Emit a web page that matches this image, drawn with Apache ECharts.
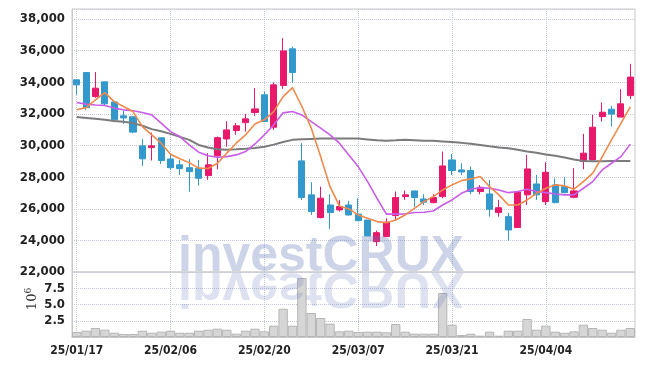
<!DOCTYPE html>
<html><head><meta charset="utf-8">
<script src="https://cdn.jsdelivr.net/npm/echarts@6/dist/echarts.min.js"></script>
<style>html,body{margin:0;padding:0;background:#fff}#c{width:645px;height:366px}</style>
</head><body><div id="c"></div>
<script>
const dates = ['25/01/17','25/01/20','25/01/21','25/01/22','25/01/23','25/01/24','25/01/31','25/02/03','25/02/04','25/02/05',
'25/02/06','25/02/07','25/02/10','25/02/11','25/02/12','25/02/13','25/02/14','25/02/17','25/02/18','25/02/19',
'25/02/20','25/02/21','25/02/24','25/02/25','25/02/26','25/02/27','25/02/28','25/03/04','25/03/05','25/03/06',
'25/03/07','25/03/10','25/03/11','25/03/12','25/03/13','25/03/14','25/03/17','25/03/18','25/03/19','25/03/20',
'25/03/21','25/03/24','25/03/25','25/03/26','25/03/27','25/03/28','25/03/31','25/04/01','25/04/02','25/04/03',
'25/04/04','25/04/07','25/04/08','25/04/09','25/04/10','25/04/11','25/04/14','25/04/15','25/04/16','25/04/17'];
// [open, close, low, high]
const ohlc = [
[34160,33840,33210,34160],[34620,32400,32260,34620],[33100,33630,33020,34650],[34030,32640,32510,34030],[32760,31630,31480,32760],
[31880,31750,31370,32210],[31820,30850,30780,31820],[29980,29160,28710,30400],[29870,29980,29050,30820],[30490,29050,28840,30490],
[29150,28600,28460,29400],[28780,28540,28140,29090],[28600,28350,27080,29140],[28570,27930,27470,29090],[28100,28780,27830,29520],
[29360,30500,28500,30570],[30420,30990,29930,31540],[30950,31250,30680,31420],[31450,31690,30880,32000],[32090,32320,31880,33630],
[33210,31520,31520,33420],[31160,33840,30990,33990],[33800,35990,33590,36800],[36120,34620,33990,36270],[29030,26710,26560,30150],
[26880,25820,25610,27680],[25440,26670,25400,27400],[26240,25760,24720,26920],[25930,26140,25820,26560],[26240,25610,25560,26500],
[25660,25250,25250,26670],[25290,24280,24280,25290],[23920,24490,23650,24620],[24240,25150,24240,25400],[25570,26710,25290,27090],
[26770,26880,26560,27150],[27130,26710,26120,27130],[26620,26420,26240,26920],[26390,26710,26350,26920],[26770,28710,26670,29620],
[29090,28420,28140,29470],[28460,28330,28140,28880],[28420,27090,26920,28670],[27090,27360,26920,27500],[26940,25970,25500,27830],
[25760,26070,25500,26560],[25500,24660,23980,25740],[24810,27050,24810,27050],[26880,28520,26240,29410],[27570,26880,26560,28140],
[26450,28310,26240,28950],[27510,26390,26350,27930],[27400,27020,26990,28000],[26730,27130,26670,28570],[28990,29520,28500,30740],
[29090,31160,29090,31940],[31830,32110,31520,32720],[32300,31990,31200,32510],[31800,32640,31800,33570],[33160,34330,32940,35170]];
const ma5 = [32260,32400,32890,33350,32780,32470,32150,31200,30680,30150,
29450,29160,28920,28570,28550,28880,29520,30150,30680,31370,
31630,32150,33100,33670,32470,31100,29300,27400,26180,25990,
25610,25400,25190,25120,25290,25610,26030,26450,26770,27190,
27510,27780,27890,28040,27400,26880,26240,26240,26560,26980,
27300,27510,27450,27240,27720,28250,29280,30360,31400,32450];
const ma10 = [32720,32620,32570,32530,32370,32260,32200,32090,31940,31420,
30880,30570,30040,29580,29350,29260,29300,29410,29620,30100,
30680,31310,32070,32150,31940,31520,31100,30680,30150,29410,
28670,27720,26670,25660,25660,25670,25760,25780,25860,26240,
26560,26980,27240,27340,27300,27190,27020,27090,27240,27090,
27020,26940,26880,26880,27300,27720,28460,28880,29300,30090];
const ma60 = [31800,31750,31690,31630,31560,31500,31420,31250,31040,30900,
30740,30550,30360,30040,29880,29770,29730,29760,29800,29850,
29920,30060,30230,30360,30400,30420,30440,30440,30440,30450,
30450,30390,30330,30310,30330,30360,30340,30310,30300,30260,
30220,30170,30110,30040,29950,29880,29830,29730,29630,29540,
29440,29350,29250,29120,29030,29000,29000,29020,29030,29030];
const volume = [770000,970000,1380000,1120000,660000,460000,460000,970000,660000,820000,
970000,660000,660000,970000,1120000,1280000,1120000,510000,970000,1280000,
870000,1740000,4350000,1740000,9070000,3690000,2920000,2050000,870000,970000,
770000,820000,820000,720000,2000000,820000,510000,510000,510000,6770000,
1890000,300000,510000,200000,820000,200000,970000,970000,2770000,1120000,
1740000,820000,660000,870000,1890000,1380000,1120000,660000,1120000,1380000];
const priceTicks = {min:22000, max:38640, interval:2000};
const volTicks = {min:0, max:10000000, interval:2500000};

const FONT = '"DejaVu Sans Condensed", Roboto, sans-serif';
const grid = '#c9c9c9';
const dotted = {type:'dotted', color:'#c3c8da', width:1};
const chart = echarts.init(document.getElementById('c'), null, {renderer:'canvas'});
chart.setOption({
  animation:false,
  grid:[
    {left:72, right:10, top:9, height:263, show:true, borderColor:grid, borderWidth:1},
    {left:72, right:10, top:272, height:65, show:true, borderColor:grid, borderWidth:1}
  ],
  xAxis:[
    {type:'category', gridIndex:0, data:dates, boundaryGap:true,
     axisLine:{show:false}, axisTick:{show:false}, axisLabel:{show:false},
     splitLine:{show:true, interval:9, alignWithLabel:true, lineStyle:dotted}},
    {type:'category', gridIndex:1, data:dates, boundaryGap:true,
     axisLine:{show:true, lineStyle:{color:grid}}, axisTick:{show:false},
     axisLabel:{interval:9, color:'#222', fontFamily:FONT, fontSize:12, fontWeight:'bold', margin:8},
     splitLine:{show:true, interval:9, alignWithLabel:true, lineStyle:dotted}}
  ],
  yAxis:[
    {type:'value', gridIndex:0, min:priceTicks.min, max:priceTicks.max, interval:priceTicks.interval,
     axisLine:{show:true, lineStyle:{color:grid}}, axisTick:{show:false},
     axisLabel:{showMaxLabel:false, color:'#222', fontFamily:FONT, fontSize:13, fontWeight:'bold', margin:7,
       formatter:v=>v.toLocaleString('en-US')},
     splitLine:{show:true, lineStyle:dotted}},
    {type:'value', gridIndex:1, min:volTicks.min, max:volTicks.max, interval:volTicks.interval,
     axisLine:{show:true, lineStyle:{color:grid}}, axisTick:{show:false},
     axisLabel:{showMaxLabel:false, showMinLabel:false, color:'#222', fontFamily:FONT, fontSize:13, fontWeight:'bold', margin:7,
       formatter:v=>(v/1e6).toFixed(1)},
     splitLine:{show:true, lineStyle:dotted}}
  ],
  graphic:[
    {type:'text', x:33, y:299, rotation:Math.PI/2, z:100,
     style:{text:'{a|10}{b|6}', rich:{a:{fontSize:13,fontFamily:'DejaVu Serif',fill:'#333'}, b:{fontSize:9,fontFamily:'DejaVu Serif',fill:'#333',padding:[0,0,8,0]}}, align:'center', verticalAlign:'middle'}},
    {type:'text', x:178, y:282, z:100, silent:true,
     style:{text:'investCRUX', fontFamily:'Liberation Sans', fontWeight:'bold', fontSize:50, fill:'rgba(100,120,185,0.32)', align:'left', verticalAlign:'bottom'}},
    {type:'text', x:178, y:262, scaleY:-1, z:100, silent:true,
     style:{text:'investCRUX', fontFamily:'Liberation Sans', fontWeight:'bold', fontSize:50, fill:'rgba(100,120,185,0.22)', align:'left', verticalAlign:'bottom'}}
  ],
  series:[
    {type:'candlestick', xAxisIndex:0, yAxisIndex:0, data:ohlc, barWidth:'70%',
     itemStyle:{color:'#e8196b', color0:'#3399cc', borderColor:'#e8196b', borderColor0:'#3399cc', borderWidth:1}},
    {type:'line', xAxisIndex:0, yAxisIndex:0, data:ma60, symbol:'none', lineStyle:{color:'#7b7b7b', width:2}, z:3},
    {type:'line', xAxisIndex:0, yAxisIndex:0, data:ma10, symbol:'none', lineStyle:{color:'#c95de6', width:1.6}, z:4},
    {type:'line', xAxisIndex:0, yAxisIndex:0, data:ma5, symbol:'none', lineStyle:{color:'#ef8a4c', width:1.6}, z:5},
    {type:'bar', xAxisIndex:1, yAxisIndex:1, data:volume, barWidth:'100%',
     itemStyle:{color:'#d6d6d6', borderColor:'#b6b6b6', borderWidth:1}}
  ]
});
</script></body></html>
